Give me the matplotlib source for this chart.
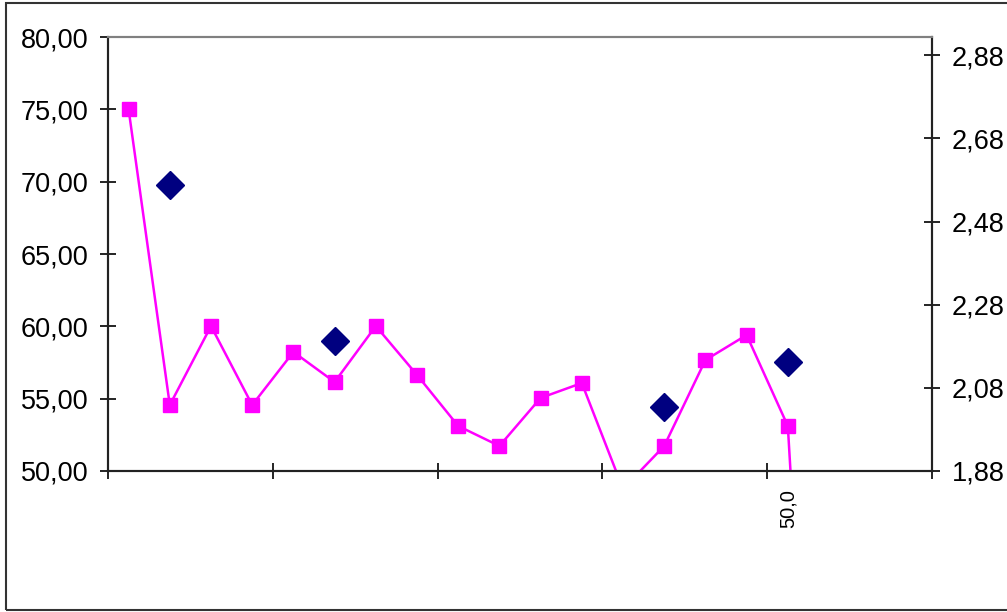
import numpy as np
import matplotlib
matplotlib.use('Agg')
import matplotlib.pyplot as plt
from matplotlib.patches import Rectangle

plt.rcParams['font.family'] = ['Liberation Sans', 'DejaVu Sans']

# dados
categorias = list(range(1, 21))
rotulos_x = ['', '', '', '', '', '', '', '', '', '', '', '', '', '', '', '', '50,0', '', '', '']
serie_rosa = [75.0, 54.56, 60.02, 54.56, 58.23, 56.15, 60.02, 56.64, 53.11, 51.73,
              55.05, 56.08, 48.76, 51.73, 57.67, 59.40, 53.11, 5.0]
idx_azul = [2, 6, 14, 17]
serie_azul = [2.567, 2.192, 2.034, 2.142]

ticks_esq = [50, 55, 60, 65, 70, 75, 80]
ticks_dir = [1.88, 2.08, 2.28, 2.48, 2.68, 2.88]

fig = plt.figure(figsize=(10.07, 6.12), dpi=100)
ax = fig.add_axes([0.10725, 0.2304, 0.8183, 0.7091])
ax2 = ax.twinx()

x_rosa = np.arange(len(serie_rosa))
ax.plot(x_rosa, serie_rosa, color='#FF00FF', lw=1.8, marker='s', ms=10,
        markeredgecolor='#FF00FF', zorder=3)
ax2.plot([i - 1 for i in idx_azul], serie_azul, linestyle='none', marker='D',
         ms=14, color='#000080', zorder=4)

ax.set_xlim(-0.5, len(categorias) - 0.5)
ax.set_ylim(50, 80)
ax2.set_ylim(1.88, 2.924)

ax.set_yticks(ticks_esq)
ax.set_yticklabels([f'{v:.2f}'.replace('.', ',') for v in ticks_esq], fontsize=19.5)
ax2.set_yticks(ticks_dir)
ax2.set_yticklabels([f'{v:.2f}'.replace('.', ',') for v in ticks_dir], fontsize=19.5)

# marcas entre categorias, rotulos no centro
ax.set_xticks(np.arange(-0.5, len(categorias), 4))
ax.set_xticklabels([])
ax.set_xticks(np.arange(len(categorias)), minor=True)
ax.set_xticklabels(rotulos_x, minor=True, rotation=90, fontsize=14.5)
ax.tick_params(axis='x', which='minor', length=0, pad=13)
ax.tick_params(axis='x', which='major', direction='inout', length=11, width=1.2)
ax.tick_params(axis='y', direction='inout', length=12, width=1.2, pad=8)
ax2.tick_params(axis='y', direction='inout', length=12, width=1.2, pad=8)

for a in (ax, ax2):
    a.spines['top'].set_color('#808080')
    a.spines['top'].set_linewidth(1.5)
    for s in ('left', 'right', 'bottom'):
        a.spines[s].set_color('#222222')
        a.spines[s].set_linewidth(1.5)

# borda externa do grafico
fig.patches.append(Rectangle((0.006, 0.003), 1.2, 0.992, transform=fig.transFigure,
                             fill=False, edgecolor='#333333', lw=1.5, clip_on=False))

fig.savefig('out.png', dpi=100)
